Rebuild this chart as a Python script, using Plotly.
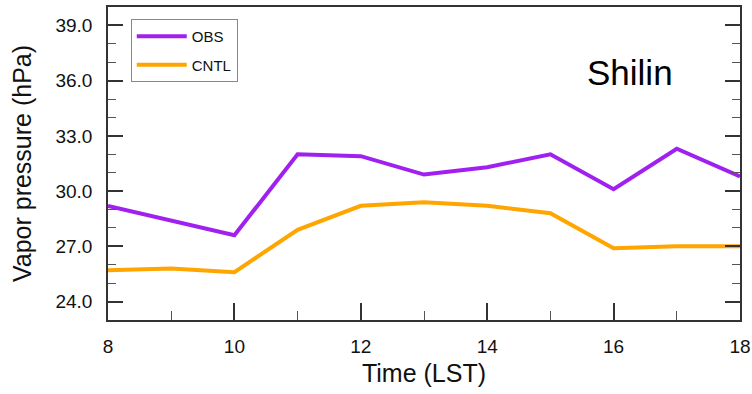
import plotly.graph_objects as go

hours = [8, 9, 10, 11, 12, 13, 14, 15, 16, 17, 18]
obs = [29.2, 28.4, 27.6, 32.0, 31.9, 30.9, 31.3, 32.0, 30.1, 32.3, 30.8]
cntl = [25.7, 25.8, 25.6, 27.9, 29.2, 29.4, 29.2, 28.8, 26.9, 27.0, 27.0]
series_names = ["OBS", "CNTL"]
series_colors = ["#A020F0", "#FFA500"]
x_ticks = [8, 10, 12, 14, 16, 18]
y_ticks = [24.0, 27.0, 30.0, 33.0, 36.0, 39.0]
station = "Shilin"

FONT = "Liberation Sans, Arial, Helvetica, sans-serif"
AX = "#333333"

fig = go.Figure()
for name, vals, col in zip(series_names, [obs, cntl], series_colors):
    fig.add_trace(go.Scatter(x=hours, y=vals, mode="lines", name=name,
                             legendgroup=name,
                             line=dict(color=col, width=4)))

fig.update_layout(
    width=752, height=394,
    margin=dict(l=108, r=12, t=7, b=74, autoexpand=False),
    paper_bgcolor="white", plot_bgcolor="white",
    font=dict(family=FONT, color="#111111"),
    showlegend=True,
    legend=dict(x=0.036, y=0.962, xanchor="left", yanchor="top",
                bordercolor="#888888", borderwidth=1, bgcolor="white",
                font=dict(size=15, color="#111111"),
                tracegroupgap=6, itemwidth=50),
    xaxis=dict(range=[8, 18], tickvals=x_ticks, ticktext=[str(v) for v in x_ticks],
               ticks="inside", ticklen=17, tickwidth=1.5, tickcolor=AX,
               minor=dict(dtick=1, tick0=8, ticks="inside", ticklen=9, tickwidth=1.2, tickcolor="#555555"),
               showline=True, linecolor=AX, linewidth=1.5, mirror=True,
               showgrid=False, zeroline=False, automargin=False,
               tickfont=dict(size=19), ticklabelstandoff=8,
               title=dict(text="Time (LST)", font=dict(size=25), standoff=9)),
    yaxis=dict(range=[23, 40], tickvals=y_ticks, ticktext=[f"{v:.1f}" for v in y_ticks],
               ticks="inside", ticklen=15, tickwidth=1.5, tickcolor=AX,
               minor=dict(dtick=1, tick0=23, ticks="inside", ticklen=8, tickwidth=1.2, tickcolor="#555555"),
               showline=True, linecolor=AX, linewidth=1.5, mirror="ticks",
               showgrid=False, zeroline=False, automargin=False,
               tickfont=dict(size=19), ticklabelstandoff=10,
               title=dict(text="Vapor pressure (hPa)", font=dict(size=25), standoff=17)),
    annotations=[dict(text=station, xref="paper", yref="paper", x=0.826, y=0.79,
                      xanchor="center", yanchor="middle", showarrow=False,
                      font=dict(size=35, color="black"))],
)

fig.write_html("out.html", config={"displayModeBar": False},
               post_script="document.body.style.margin='0';")
